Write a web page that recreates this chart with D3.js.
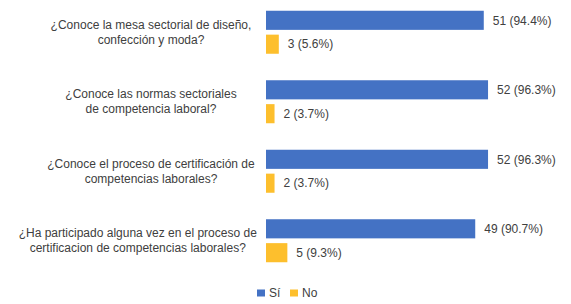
<!DOCTYPE html>
<html lang="es">
<head>
<meta charset="UTF-8">
<title>Encuesta</title>
<style>
    body { margin: 0; padding: 0; background: #fff; }
    text { font-family: "Liberation Sans", Arial, sans-serif; font-size: 12px; fill: #404040; }
</style>
</head>
<body>
<svg id="chart"></svg>
<script src="https://d3js.org/d3.v7.min.js"></script>
<script>
    var questions = [
        ["¿Conoce la mesa sectorial de diseño,", "confección y moda?"],
        ["¿Conoce las normas sectoriales", "de competencia laboral?"],
        ["¿Conoce el proceso de certificación de", "competencias laborales?"],
        ["¿Ha participado alguna vez en el proceso de", "certificacion de competencias laborales?"]
    ];
    var series = ["Sí", "No"];
    var siValues = [51, 52, 52, 49];
    var noValues = [3, 2, 2, 5];
    var colors = ["#4472C4", "#FDBF2D"];

    var width = 571, height = 304;
    var svg = d3.select("#chart").attr("width", width).attr("height", height);

    var data = questions.map(function (q, i) {
        var total = siValues[i] + noValues[i];
        return {
            key: i,
            lines: q,
            vals: [
                {s: "Sí", v: siValues[i], pct: siValues[i] / total * 100},
                {s: "No", v: noValues[i], pct: noValues[i] / total * 100}
            ]
        };
    });

    var x = d3.scaleLinear().domain([0, 60]).range([266, 522.2]);
    var y = d3.scaleBand().domain(data.map(function (d) { return d.key; }))
        .range([-2.5, 275.5]).padding(0);
    var inner = d3.scaleBand().domain(series).range([-21.5, 21.5]).paddingInner(0.2);
    var color = d3.scaleOrdinal().domain(series).range(colors);

    var groups = svg.selectAll("g.q").data(data).enter().append("g")
        .attr("class", "q")
        .attr("transform", function (d) { return "translate(0," + (y(d.key) + y.bandwidth() / 2) + ")"; });

    groups.selectAll("rect").data(function (d) { return d.vals; }).enter().append("rect")
        .attr("x", x(0))
        .attr("y", function (d) { return inner(d.s); })
        .attr("width", function (d) { return x(d.v) - x(0); })
        .attr("height", inner.bandwidth())
        .attr("fill", function (d) { return color(d.s); });

    groups.selectAll("text.val").data(function (d) { return d.vals; }).enter().append("text")
        .attr("class", "val")
        .attr("x", function (d) { return x(d.v) + 9; })
        .attr("y", function (d) { return inner(d.s) + inner.bandwidth() / 2; })
        .attr("dy", "0.35em")
        .text(function (d) { return d.v + " (" + d.pct.toFixed(1) + "%)"; });

    // category labels: centered at 151, pushed left when too wide
    groups.each(function (d) {
        var g = d3.select(this);
        var t = g.append("text").attr("text-anchor", "middle");
        d.lines.forEach(function (line, j) {
            t.append("tspan").attr("x", 151).attr("y", (j - 0.5) * 15).attr("dy", "0.35em").text(line);
        });
        var w = t.node().getBBox().width;
        if (151 + w / 2 > 257) {
            t.selectAll("tspan").attr("x", 257 - w / 2);
        }
    });

    // legend
    var legend = svg.append("g").attr("transform", "translate(257,293)");
    var items = legend.selectAll("g").data(series).enter().append("g")
        .attr("transform", function (d, i) { return "translate(" + (i * 33) + ",0)"; });
    items.append("rect").attr("x", 0).attr("y", -3.5).attr("width", 8).attr("height", 7)
        .attr("fill", function (d) { return color(d); });
    items.append("text").attr("x", 12).attr("dy", "0.35em").text(function (d) { return d; });
</script>
</body>
</html>
